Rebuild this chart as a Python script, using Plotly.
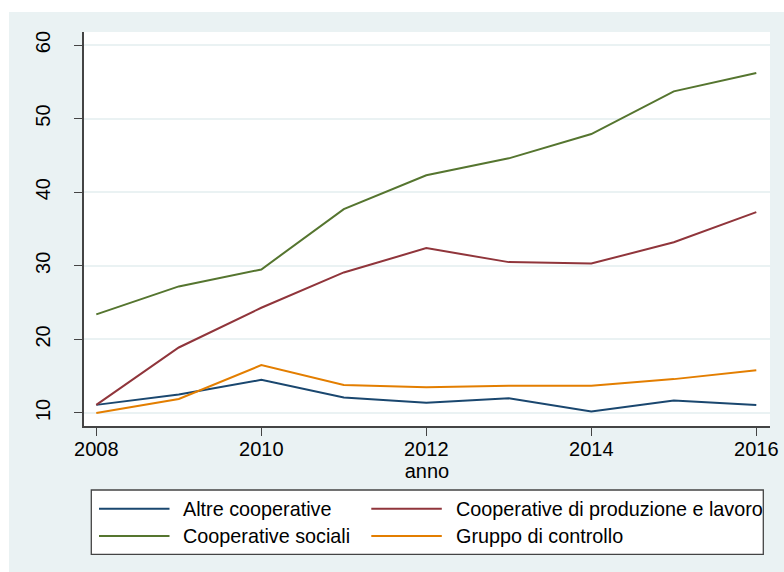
import plotly.graph_objects as go

# Years on the horizontal axis
anni = [2008, 2009, 2010, 2011, 2012, 2013, 2014, 2015, 2016]

# Series values per group
altre_cooperative = [11.1, 12.5, 14.5, 12.1, 11.4, 12.0, 10.2, 11.7, 11.1]
coop_produzione_lavoro = [11.1, 18.9, 24.3, 29.1, 32.4, 30.5, 30.3, 33.2, 37.3]
coop_sociali = [23.4, 27.2, 29.5, 37.7, 42.3, 44.6, 47.9, 53.7, 56.2]
gruppo_controllo = [10.0, 11.9, 16.5, 13.8, 13.5, 13.7, 13.7, 14.6, 15.8]

nomi = ["Altre cooperative", "Cooperative di produzione e lavoro",
        "Cooperative sociali", "Gruppo di controllo"]
serie = [altre_cooperative, coop_produzione_lavoro, coop_sociali, gruppo_controllo]
colori = ["#1a476f", "#90353b", "#55752f", "#e37e00"]

x_ticks = [2008, 2010, 2012, 2014, 2016]
y_ticks = [10, 20, 30, 40, 50, 60]

W, H = 784, 572
ML, MR, MT, MB = 84, 14, 32, 146
PW, PH = W - ML - MR, H - MT - MB

def px(x):
    """Pixel column -> paper x coordinate."""
    return (x - ML) / PW

def py(y):
    """Pixel row -> paper y coordinate."""
    return (H - MB - y) / PH

FONT = "Liberation Sans, Arial, sans-serif"
BG = "#eaf2f3"

fig = go.Figure()
for nome, valori, col in zip(nomi, serie, colori):
    fig.add_trace(go.Scatter(x=anni, y=valori, mode="lines", name=nome,
                             line=dict(color=col, width=2), showlegend=False))

shapes = [
    # white page strips around the graph region
    dict(type="rect", xref="paper", yref="paper", x0=px(0), x1=px(W), y0=py(12), y1=py(0),
         fillcolor="white", line=dict(width=0), layer="below"),
    dict(type="rect", xref="paper", yref="paper", x0=px(0), x1=px(9), y0=py(H), y1=py(0),
         fillcolor="white", line=dict(width=0), layer="below"),
    # legend frame
    dict(type="rect", xref="paper", yref="paper", x0=px(91.3), x1=px(763.3),
         y0=py(554.3), y1=py(490), fillcolor="white",
         line=dict(color="#444444", width=1.3)),
]

# two-column legend with long line keys
annotations = []
legend_pos = [(99, 508.7), (371.3, 508.7), (99, 536), (371.3, 536)]
for (lx, ly), nome, col in zip(legend_pos, nomi, colori):
    shapes.append(dict(type="line", xref="paper", yref="paper",
                       x0=px(lx), x1=px(lx + 70.5), y0=py(ly), y1=py(ly),
                       line=dict(color=col, width=2)))
    annotations.append(dict(xref="paper", yref="paper", x=px(lx + 82.4), y=py(ly),
                            text=nome, showarrow=False, xanchor="left", yanchor="middle",
                            font=dict(family=FONT, size=19.8, color="black")))

fig.update_layout(
    width=W, height=H,
    margin=dict(l=ML, r=MR, t=MT, b=MB, pad=0),
    paper_bgcolor=BG, plot_bgcolor="white",
    font=dict(family=FONT, size=20, color="black"),
    shapes=shapes, annotations=annotations,
    xaxis=dict(range=[2007.851, 2016.166], tickvals=x_ticks, automargin=False,
               ticks="outside", ticklen=8, tickwidth=1.3, tickcolor="#444444",
               showline=True, linecolor="#444444", linewidth=1.5,
               showgrid=False, zeroline=False,
               tickfont=dict(size=20), ticklabelstandoff=-4,
               title=dict(text="anno", font=dict(size=20), standoff=0)),
    yaxis=dict(range=[8.23, 61.77], tickvals=y_ticks, tickangle=-90, automargin=False,
               ticks="outside", ticklen=8, tickwidth=1.3, tickcolor="#444444",
               showline=True, linecolor="#444444", linewidth=1.5,
               showgrid=True, gridcolor=BG, gridwidth=1.5, zeroline=False,
               tickfont=dict(size=20), ticklabelstandoff=16),
)

fig.write_html("out.html")
